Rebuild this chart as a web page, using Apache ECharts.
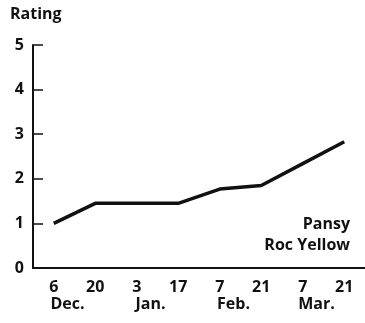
<!DOCTYPE html>
<html>
<head>
<meta charset="utf-8">
<script src="https://cdn.jsdelivr.net/npm/echarts@6/dist/echarts.min.js"></script>
<style>
  html, body { margin: 0; padding: 0; background: #fff; }
  #chart { width: 365px; height: 323px; }
</style>
</head>
<body>
<div id="chart"></div>
<script>
// Sampling dates (day of month) and the month each pair belongs to
const dayLabels = ['6', '20', '3', '17', '7', '21', '7', '21'];
const monthLabels = ['Dec.', 'Jan.', 'Feb.', 'Mar.'];
// Rating of the pansy cultivar at each date
const ratings = [1.0, 1.45, 1.45, 1.45, 1.77, 1.85, 2.34, 2.83];
const yTicks = [0, 1, 2, 3, 4, 5];
const yTitle = 'Rating';
const seriesLabel = ['Pansy', 'Roc Yellow'];

const FONT = 'Open Sans';
const INK = '#111';
const labelStyle = { fontFamily: FONT, fontWeight: 'bold', fontSize: 16, color: INK };

const chart = echarts.init(document.getElementById('chart'), null, { renderer: 'canvas' });

chart.setOption({
  animation: false,
  backgroundColor: '#fff',
  title: [
    { text: yTitle, left: 5, top: 1, textStyle: labelStyle },
    { text: seriesLabel[0], right: 10, top: 211, textStyle: labelStyle },
    { text: seriesLabel[1], right: 10, top: 232, textStyle: labelStyle }
  ],
  grid: { left: 33, top: 45, width: 334, bottom: 55, containLabel: false },
  xAxis: [
    {
      type: 'category',
      data: dayLabels,
      boundaryGap: true,
      axisLine: { lineStyle: { color: INK, width: 2 } },
      axisTick: { inside: true, length: 6, alignWithLabel: true, lineStyle: { color: INK, width: 1.5 } },
      axisLabel: Object.assign({ margin: 11, interval: 0 }, labelStyle),
      splitLine: { show: false }
    },
    {
      type: 'category',
      data: monthLabels,
      position: 'bottom',
      boundaryGap: true,
      axisLine: { show: false },
      axisTick: { show: false },
      axisLabel: Object.assign({ margin: 28, interval: 0, padding: [0, 14, 0, 0] }, labelStyle),
      splitLine: { show: false }
    }
  ],
  yAxis: {
    type: 'value',
    min: yTicks[0],
    max: yTicks[yTicks.length - 1],
    interval: 1,
    axisLine: { show: true, lineStyle: { color: INK, width: 2 } },
    axisTick: { show: true, inside: true, length: 10, lineStyle: { color: INK, width: 1.5 } },
    axisLabel: Object.assign({ margin: 9 }, labelStyle),
    splitLine: { show: false }
  },
  series: [
    {
      name: seriesLabel.join(' '),
      type: 'line',
      xAxisIndex: 0,
      data: ratings,
      showSymbol: false,
      lineStyle: { color: INK, width: 3.5, join: 'round' }
    }
  ]
});
</script>
</body>
</html>
